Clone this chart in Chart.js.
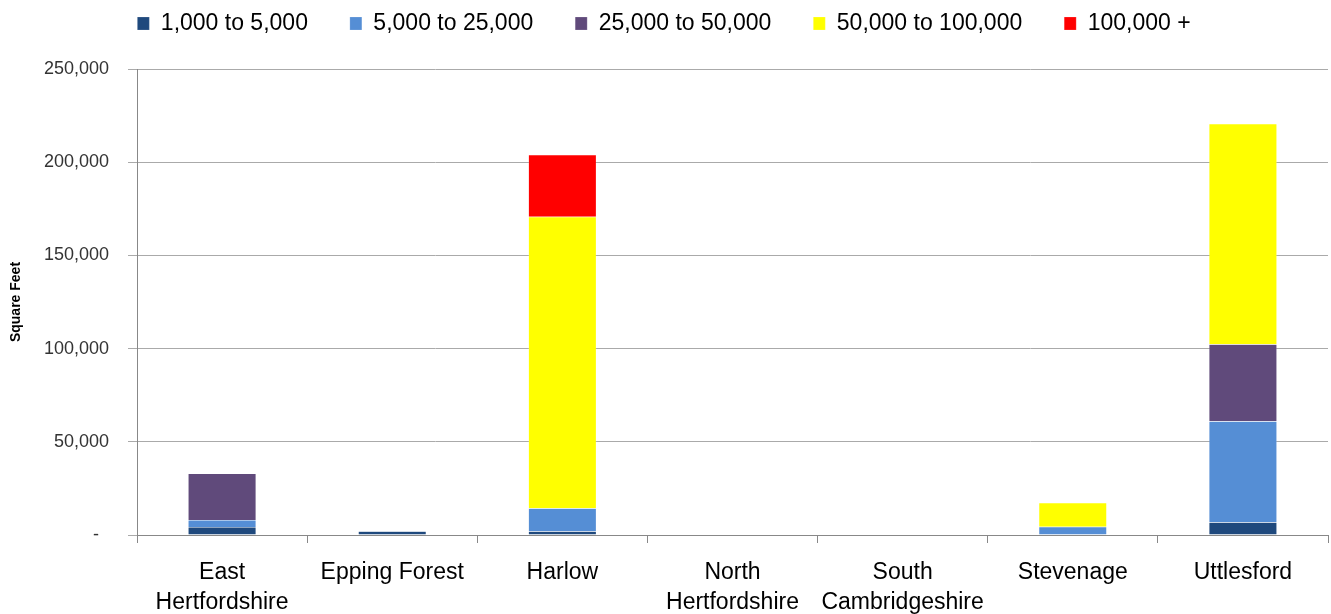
<!DOCTYPE html>
<html>
<head>
<meta charset="utf-8">
<script src="https://cdn.jsdelivr.net/npm/chart.js@4"></script>
<style>
  html, body { margin: 0; padding: 0; background: #fff; }
  #wrap { width: 1331px; height: 614px; }
</style>
</head>
<body>
<div id="wrap"><canvas id="grafico"></canvas></div>
<script>
// categorias (distritos)
var categorias = [
  ["East", "Hertfordshire"],
  "Epping Forest",
  "Harlow",
  ["North", "Hertfordshire"],
  ["South", "Cambridgeshire"],
  "Stevenage",
  "Uttlesford"
];

// valores por faixa de tamanho (square feet)
var faixa1a5 = [4300, 2000, 2000, 0, 0, 0, 6800];
var faixa5a25 = [3700, 0, 12300, 0, 0, 4400, 54200];
var faixa25a50 = [25000, 0, 0, 0, 0, 0, 41300];
var faixa50a100 = [0, 0, 156500, 0, 0, 12900, 118300];
var faixa100mais = [0, 0, 33200, 0, 0, 0, 0];

var nomesSeries = ["1,000 to 5,000", "5,000 to 25,000", "25,000 to 50,000", "50,000 to 100,000", "100,000 +"];
var cores = ["#1f497d", "#558ed5", "#604a7b", "#ffff00", "#ff0000"];

var fonte = "'Liberation Sans', Arial, sans-serif";

function formatarNumero(valor) {
  if (valor === 0) return "-  ";
  return valor.toLocaleString("en-US");
}

var series = [faixa1a5, faixa5a25, faixa25a50, faixa50a100, faixa100mais];
var datasets = series.map(function (dados, i) {
  return {
    // espaços no fim para afastar os itens da legenda
    label: i < series.length - 1 ? nomesSeries[i] + "     " : nomesSeries[i],
    data: dados,
    backgroundColor: cores[i],
    borderColor: "rgba(255,255,255,0.35)",
    borderWidth: 0.5,
    barPercentage: 0.4,
    categoryPercentage: 1.0
  };
});

// espaço extra abaixo da legenda
var margemLegenda = {
  id: "margemLegenda",
  beforeInit: function (chart) {
    var fitOriginal = chart.legend.fit;
    chart.legend.fit = function () {
      fitOriginal.bind(chart.legend)();
      this.height += 24;
    };
  }
};

var ctx = document.getElementById("grafico").getContext("2d");
var grafico = new Chart(ctx, {
  type: "bar",
  data: { labels: categorias, datasets: datasets },
  plugins: [margemLegenda],
  options: {
    responsive: true,
    maintainAspectRatio: false,
    animation: false,
    layout: { padding: { left: 0, right: 3, top: 2, bottom: 0 } },
    plugins: {
      tooltip: { enabled: false },
      legend: {
        position: "top",
        align: "center",
        labels: {
          boxWidth: 12,
          boxHeight: 13,
          padding: 10,
          color: "#000",
          font: { family: fonte, size: 23 }
        }
      }
    },
    scales: {
      x: {
        stacked: true,
        offset: true,
        border: { color: "#888", width: 1 },
        grid: {
          offset: true,
          drawOnChartArea: false,
          color: "#888",
          tickLength: 8
        },
        ticks: {
          color: "#000",
          maxRotation: 0,
          autoSkip: false,
          padding: 15,
          font: { family: fonte, size: 23, lineHeight: 1.3 }
        },
        afterFit: function (escala) { escala.height = 79; }
      },
      y: {
        stacked: true,
        min: 0,
        max: 250000,
        border: { color: "#888", width: 1 },
        grid: { color: "#aaa", tickLength: 9 },
        ticks: {
          stepSize: 50000,
          color: "#333",
          padding: 19,
          font: { family: fonte, size: 18 },
          callback: function (valor) { return formatarNumero(valor); }
        },
        title: {
          display: true,
          text: "Square Feet",
          color: "#000",
          font: { family: fonte, size: 14, weight: "bold" },
          padding: { top: 8, bottom: 4 }
        },
        afterFit: function (escala) { escala.width = 137; }
      }
    }
  }
});
</script>
</body>
</html>
